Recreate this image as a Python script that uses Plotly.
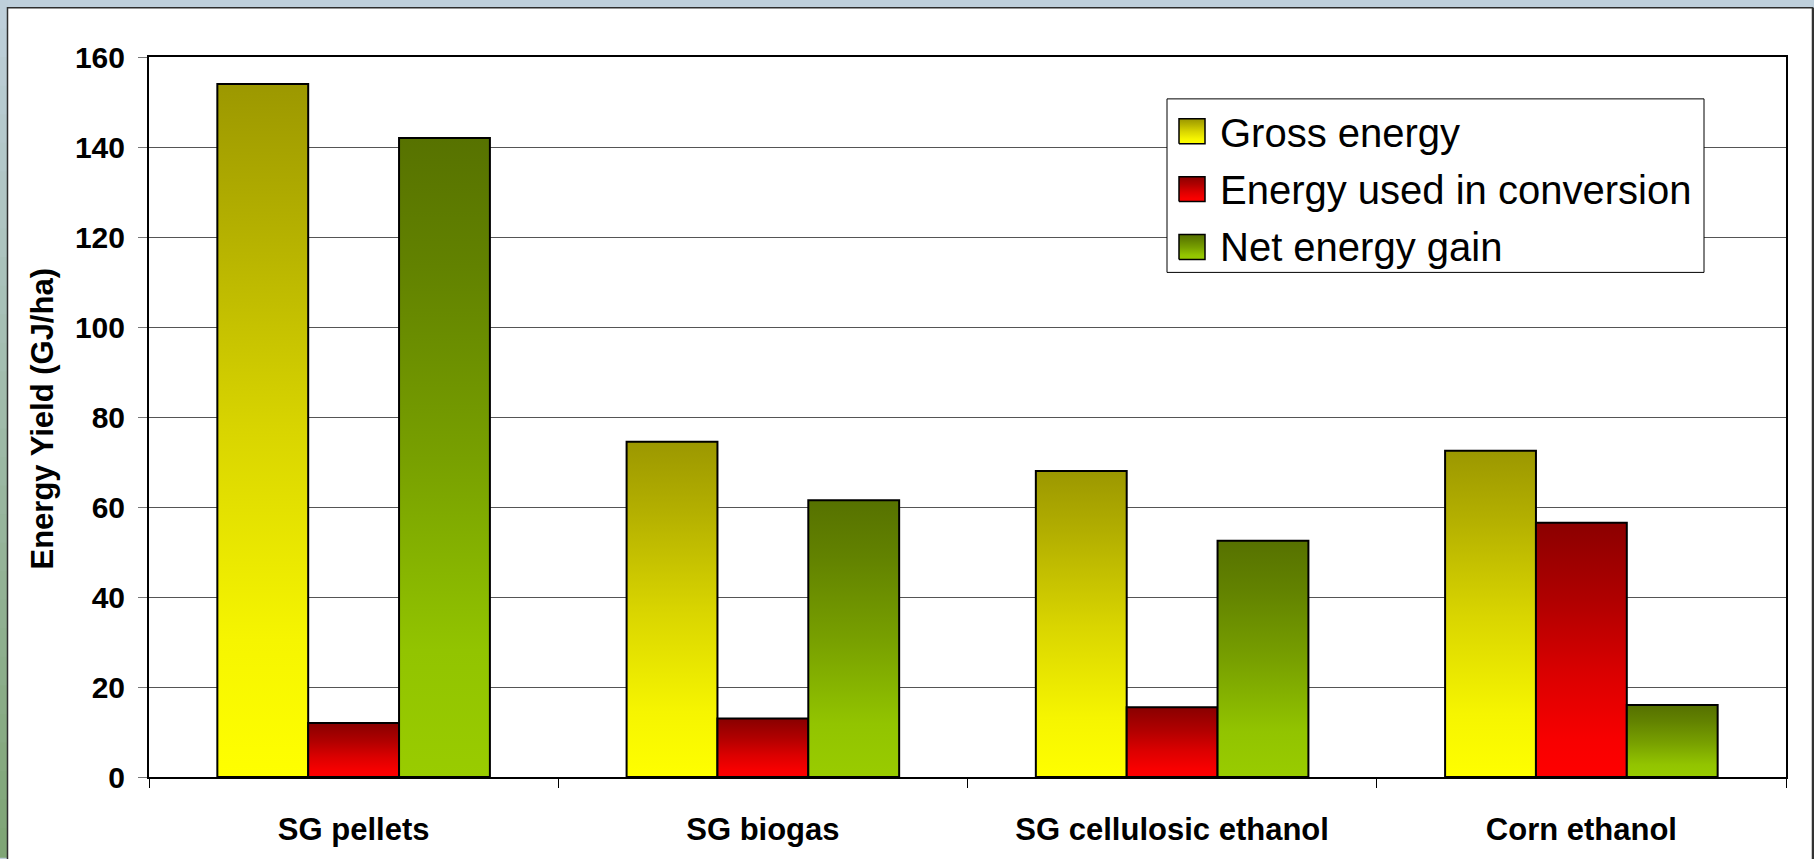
import plotly.graph_objects as go

# ---- data -------------------------------------------------------------
categories = ["SG pellets", "SG biogas", "SG cellulosic ethanol", "Corn ethanol"]
gross_energy = [154, 74.5, 68, 72.5]
conversion_energy = [12, 13, 15.5, 56.5]
net_energy = [142, 61.5, 52.5, 16]
series_names = ["Gross energy", "Energy used in conversion", "Net energy gain"]
y_ticks = [0, 20, 40, 60, 80, 100, 120, 140, 160]

# ---- styling ----------------------------------------------------------
W, H = 1814, 859
L, R, T, B = 149, 28, 57, 80          # plot-area margins
FONT = "Liberation Sans, Arial, sans-serif"

gradients = [
    [[0, "#ffff00"], [0.2, "#f6f500"], [0.5, "#d9d500"], [0.8, "#b3af00"], [1, "#9c9800"]],
    [[0, "#ff0000"], [0.15, "#f80000"], [0.4, "#dc0000"], [0.7, "#b00000"], [1, "#8c0000"]],
    [[0, "#99cc00"], [0.2, "#92c400"], [0.5, "#78a000"], [0.8, "#628200"], [1, "#577200"]],
]
bar_width = 0.222
offsets = [-bar_width, 0.0, bar_width]

pw, ph = W - L - R, H - T - B


def px_x(px):
    return (px - L) / pw


def px_y(py):
    return (H - B - py) / ph


fig = go.Figure()

# ---- bars: one filled rectangle per value, gradient scaled to its height
for s, values in enumerate([gross_energy, conversion_energy, net_energy]):
    for i, v in enumerate(values):
        xc = i + offsets[s]
        x0, x1 = xc - bar_width / 2, xc + bar_width / 2
        fig.add_trace(go.Scatter(
            x=[x0, x0, x1, x1, x0], y=[0, v, v, 0, 0],
            mode="lines", fill="toself",
            fillgradient=dict(type="vertical", colorscale=gradients[s], start=0, stop=v),
            line=dict(color="black", width=2),
            name=series_names[s], showlegend=False, hoverinfo="skip",
        ))

# ---- legend box drawn on a pixel-space overlay --------------------------
fig.add_trace(go.Scatter(
    x=[1167, 1704, 1704, 1167, 1167], y=[99, 99, 273, 273, 99],
    xaxis="x2", yaxis="y2", mode="lines", fill="toself", fillcolor="white",
    line=dict(color="black", width=1), showlegend=False, hoverinfo="skip",
))
swatch_tops = [119, 177, 235]
row_centers = [133, 190, 248]
for s, name in enumerate(series_names):
    t0 = swatch_tops[s]
    fig.add_trace(go.Scatter(
        x=[1179, 1179, 1205, 1205, 1179], y=[t0 + 25, t0, t0, t0 + 25, t0 + 25],
        xaxis="x2", yaxis="y2", mode="lines", fill="toself",
        fillgradient=dict(type="vertical", colorscale=gradients[s], start=t0 + 25, stop=t0),
        line=dict(color="black", width=1.5), showlegend=False, hoverinfo="skip",
    ))
    fig.add_annotation(
        x=1218, y=row_centers[s], xref="x2", yref="y2", text=name,
        showarrow=False, xanchor="left", yanchor="middle",
        font=dict(family=FONT, size=40, color="black"),
    )

# ---- y-axis title -----------------------------------------------------
fig.add_annotation(
    x=px_x(42.5), y=px_y(420), xref="paper", yref="paper",
    text="Energy Yield (GJ/ha)", textangle=-90, showarrow=False,
    xanchor="center", yanchor="middle",
    font=dict(family=FONT, size=31, color="black", weight="bold"),
)

# ---- slide-style frame: tinted edges and white panel ---------------------
shapes = []
top_rgb, bot_rgb = (0xbf, 0xd0, 0xdc), (0x7e, 0xa4, 0x74)
n_strips = 30
for k in range(n_strips):
    f = (k + 0.5) / n_strips
    c = tuple(round(a + (b - a) * f) for a, b in zip(top_rgb, bot_rgb))
    y0 = H * k / n_strips
    y1 = H * (k + 1) / n_strips + 1
    shapes.append(dict(
        type="rect", xref="paper", yref="paper", layer="below",
        x0=px_x(0), x1=px_x(8), y0=px_y(y1), y1=px_y(y0),
        fillcolor="rgb(%d,%d,%d)" % c, line=dict(width=0),
    ))
shapes.append(dict(
    type="rect", xref="paper", yref="paper", layer="below",
    x0=px_x(7.5), x1=px_x(1812.5), y0=px_y(H + 5), y1=px_y(7.5),
    fillcolor="white", line=dict(color="#2e2e2e", width=1.5),
))
shapes.append(dict(
    type="rect", xref="paper", yref="paper", layer="below",
    x0=px_x(1812), x1=px_x(W), y0=px_y(H + 5), y1=px_y(7.5),
    fillcolor="#333333", line=dict(width=0),
))

fig.update_layout(
    width=W, height=H, autosize=False,
    margin=dict(l=L, r=R, t=T, b=B, pad=0),
    paper_bgcolor="#bfd0dc", plot_bgcolor="white",
    showlegend=False, shapes=shapes,
    font=dict(family=FONT, color="black"),
    xaxis=dict(
        range=[-0.5, 3.5], tickmode="array",
        tickvals=list(range(len(categories))), ticktext=categories,
        ticks="", ticklabelstandoff=24,
        tickfont=dict(family=FONT, size=31, color="black", weight="bold"),
        showline=True, linecolor="black", linewidth=2, mirror=True,
        showgrid=False, zeroline=False, fixedrange=True,
        minor=dict(tick0=-0.5, dtick=1, ticks="outside", ticklen=9,
                   tickcolor="black", tickwidth=1, showgrid=False),
    ),
    yaxis=dict(
        range=[0, 160], tickmode="array", tickvals=y_ticks,
        ticks="outside", ticklen=9, tickcolor="#777777", tickwidth=1,
        ticklabelstandoff=7,
        tickfont=dict(family=FONT, size=30, color="black", weight="bold"),
        showline=True, linecolor="black", linewidth=2, mirror=True,
        showgrid=True, gridcolor="#555555", gridwidth=1,
        zeroline=False, fixedrange=True,
    ),
    xaxis2=dict(overlaying="x", range=[L, W - R], visible=False, fixedrange=True),
    yaxis2=dict(overlaying="y", range=[H - B, T], visible=False, fixedrange=True),
)

fig.write_html("out.html")
